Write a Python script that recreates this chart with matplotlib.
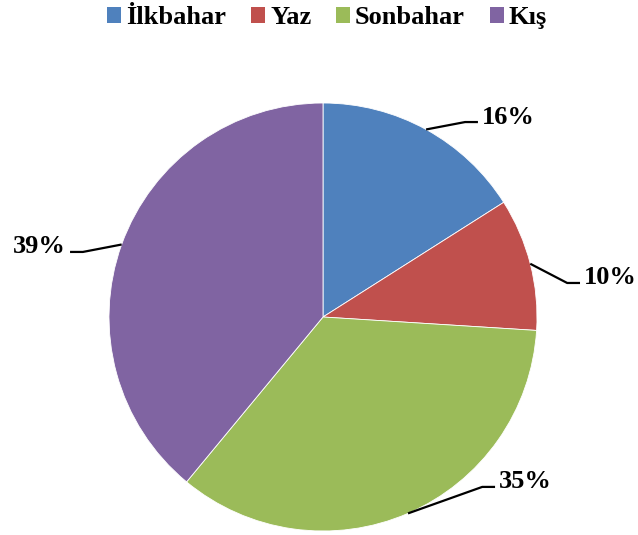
import matplotlib
matplotlib.use("Agg")
import matplotlib.pyplot as plt
from matplotlib.patches import Patch
import numpy as np

categories = ["İlkbahar", "Yaz", "Sonbahar", "Kış"]
values = [16, 10, 35, 39]
colors = ["#4F81BD", "#C0504D", "#9BBB59", "#8064A2"]

# label layout (leader line end points, in pie-radius units)
label_ends = [(0.724, 0.911), (1.201, 0.159), (0.804, -0.794), (-1.182, 0.304)]

W, H = 638, 535
cx, cy, R = 323, 317, 214
fig = plt.figure(figsize=(W / 100, H / 100), dpi=100)
ax = fig.add_axes([0, 0, 1, 1])

font = dict(family=["Liberation Serif", "DejaVu Serif"], weight="bold")

wedges, _ = ax.pie(values, colors=colors, startangle=90, counterclock=False,
                   radius=1, center=(0, 0), frame=True,
                   wedgeprops=dict(edgecolor="white", linewidth=0.6))
ax.set_xlim(-cx / R, (W - cx) / R)
ax.set_ylim(-(H - cy) / R, cy / R)
ax.axis("off")

total = sum(values)
for w, v, (ex, ey) in zip(wedges, values, label_ends):
    ang = np.deg2rad((w.theta1 + w.theta2) / 2)
    sx, sy = np.cos(ang), np.sin(ang)
    side = 1 if ex > 0 else -1
    elbow = (ex - side * 0.06, ey)
    ax.plot([sx, elbow[0], ex], [sy, elbow[1], ey], color="black", lw=1.6,
            solid_capstyle="butt", zorder=5)
    ax.text(ex + side * 0.02, ey - 0.007, f"{round(100 * v / total)}%",
            ha="left" if side > 0 else "right", va="baseline",
            fontsize=19, **font)

handles = [Patch(facecolor=c, edgecolor="none") for c in colors]
fig.legend(handles, categories, loc="upper center", ncol=4, frameon=False,
           bbox_to_anchor=(0.513, 1.033), prop=dict(family="Liberation Serif", weight="bold", size=19),
           handlelength=0.53, handleheight=0.53, handletextpad=0.18, columnspacing=0.95)

fig.savefig("out.png", dpi=100)
